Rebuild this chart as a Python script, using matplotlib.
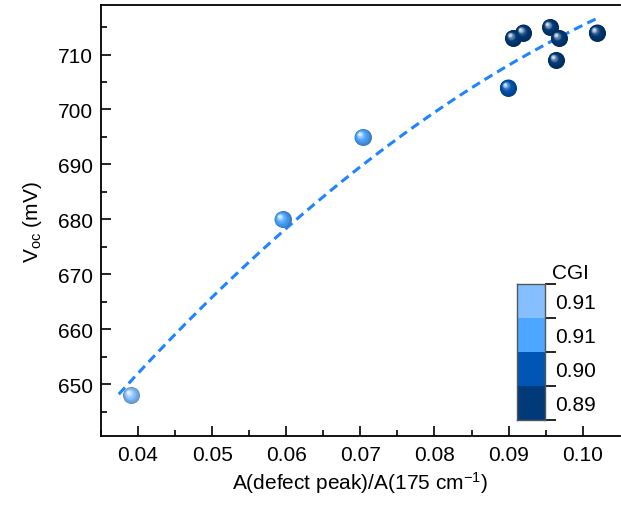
import numpy as np
import matplotlib
matplotlib.use('Agg')
import matplotlib.pyplot as plt
from matplotlib import transforms
from matplotlib.colors import to_rgb

plt.rcParams['font.family'] = ['Liberation Sans', 'DejaVu Sans']
plt.rcParams['mathtext.fontset'] = 'custom'
plt.rcParams['mathtext.rm'] = 'Liberation Sans'
plt.rcParams['mathtext.it'] = 'Liberation Sans:italic'

# data
ratio = [0.0391, 0.0595, 0.0703, 0.0899, 0.0906, 0.0920, 0.0956, 0.0968, 0.0964, 0.1019]
voc = [648, 680, 695, 704, 713, 714, 715, 713, 709, 714]
level = [0, 1, 1, 2, 3, 3, 3, 3, 3, 3]   # index into cgi_labels

# fitted curve (dashed line)
fit_x = [0.0374, 0.0595, 0.0703, 0.0900, 0.1018]
fit_y = [648.1, 678.1, 689.7, 707.9, 716.6]

cgi_labels = ['0.91', '0.91', '0.90', '0.89']
cgi_colors = ['#85BFFF', '#4DA6FF', '#0055B5', '#003A78']

fig = plt.figure(figsize=(6.21, 5.06), dpi=100)
ax = fig.add_axes([0.1626, 0.1354, 0.8354, 0.8526])

coef = np.polyfit(fit_x, fit_y, 2)
xf = np.linspace(fit_x[0], fit_x[-1], 200)
ax.plot(xf, np.polyval(coef, xf), color='#1E84FF', lw=2.2,
        dashes=(3.0, 1.8), zorder=2)


def sphere(x, y, base, r=8.5, n=16):
    base = np.array(to_rgb(base))
    for k in range(n):
        f = k / n
        rad = r * (1 - f * 0.92)
        if f < 0.45:
            col = base * (0.75 + 0.55 * f)
        else:
            t = (f - 0.45) / 0.55
            col = base + (1 - base) * t ** 1.3 * 0.97
        col = np.clip(col, 0, 1)
        tr = transforms.offset_copy(ax.transData, fig=fig,
                                    x=-0.4 * r * f, y=0.4 * r * f,
                                    units='dots')
        ax.scatter([x], [y], s=(2 * rad * 0.72) ** 2, color=col,
                   linewidths=0, transform=tr, zorder=3 + k * 0.01)


for xi, yi, li in zip(ratio, voc, level):
    sphere(xi, yi, cgi_colors[li])

ax.set_xlim(0.035, 0.105)
ax.set_ylim(640.5, 719)
ax.set_xticks(np.arange(0.04, 0.1001, 0.01))
ax.set_xticks(np.arange(0.035, 0.105, 0.005), minor=True)
ax.set_yticks(np.arange(650, 711, 10))
ax.set_yticks(np.arange(645, 719, 5), minor=True)
ax.xaxis.set_major_formatter(matplotlib.ticker.FormatStrFormatter('%.2f'))
ax.tick_params(which='both', direction='in', labelsize=15, width=1.2)
ax.tick_params(which='major', length=7, pad=6)
ax.tick_params(which='minor', length=4)
ax.spines['right'].set_visible(False)
for s in ['left', 'bottom', 'top']:
    ax.spines[s].set_linewidth(1.3)

ax.set_xlabel('A(defect peak)/A(175 cm$^{-1}$)', fontsize=15, labelpad=4)
ax.set_ylabel('V$_{\\mathrm{oc}}$ (mV)', fontsize=15, labelpad=10)

# colour legend
cax = fig.add_axes([0.832, 0.1686, 0.046, 0.2682])
for i, c in enumerate(cgi_colors[::-1]):
    cax.bar(0.5, 1, bottom=i, width=1, color=c, linewidth=0)
cax.set_xlim(0, 1)
cax.set_ylim(0, 4)
cax.set_xticks([])
cax.yaxis.tick_right()
cax.set_yticks(range(5))
cax.set_yticklabels([])
cax.set_yticks(np.arange(0.5, 4, 1), minor=True)
cax.set_yticklabels(cgi_labels[::-1], minor=True)
cax.tick_params(which='major', direction='out', length=8, width=1.2)
cax.tick_params(which='minor', length=0, labelsize=15, pad=7)
for s in cax.spines.values():
    s.set_color('#555555')
    s.set_linewidth(1.0)
cax.text(1.25, 4.05, 'CGI', fontsize=15, ha='left', va='bottom')

fig.savefig('out.png', dpi=100)
